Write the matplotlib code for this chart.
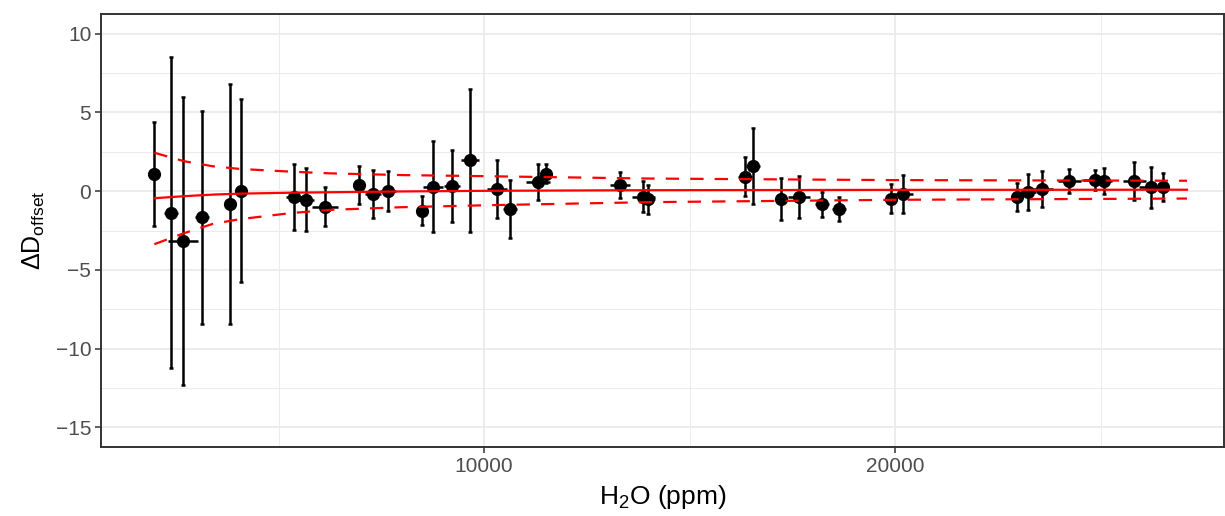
import matplotlib
matplotlib.use("Agg")
import matplotlib.pyplot as plt
from matplotlib.ticker import MultipleLocator

# measured points: H2O (ppm), offset, x error, y error
h2o = [1978, 2384, 2684, 3146, 3820, 4080, 5384, 5676, 6131, 6966,
       7292, 7652, 8479, 8766, 9214, 9652, 10311, 10633, 11321, 11496,
       13309, 13876, 13998, 16350, 16552, 17226, 17664, 18217, 18645, 19895,
       20187, 22961, 23243, 23584, 24241, 24866, 25092, 25822, 26221, 26513]
d_off = [1.07, -1.36, -3.19, -1.66, -0.81, 0.03, -0.39, -0.56, -0.98, 0.38,
         -0.18, -0.02, -1.23, 0.29, 0.34, 1.96, 0.14, -1.13, 0.58, 1.10,
         0.39, -0.35, -0.51, 0.92, 1.59, -0.49, -0.39, -0.83, -1.13, -0.49,
         -0.18, -0.39, -0.03, 0.12, 0.64, 0.71, 0.64, 0.64, 0.24, 0.28]
h2o_err = [100, 170, 365, 170, 150, 100, 195, 195, 315, 120,
           195, 195, 120, 245, 195, 220, 245, 170, 290, 120,
           245, 290, 170, 170, 170, 150, 270, 170, 170, 150,
           245, 150, 195, 245, 270, 290, 195, 270, 290, 150]
d_err = [3.3, 9.85, 9.15, 6.77, 7.6, 5.8, 2.1, 2.0, 1.25, 1.2,
         1.5, 1.27, 0.9, 2.87, 2.28, 4.53, 1.83, 1.82, 1.17, 0.6,
         0.85, 1.0, 0.92, 1.23, 2.41, 1.34, 1.34, 0.8, 0.78, 0.92,
         1.2, 0.9, 1.15, 1.14, 0.77, 0.66, 0.82, 1.19, 1.3, 0.9]

# fitted curve and its band
fit_x = [1978, 2700, 3400, 4060, 5280, 6250, 8000, 10000, 14000, 20000, 27100]
fit_y = [-0.45, -0.32, -0.22, -0.16, -0.10, -0.07, -0.02, 0.02, 0.06, 0.08, 0.09]
fit_hi = [2.44, 1.90, 1.58, 1.41, 1.24, 1.13, 1.02, 0.95, 0.80, 0.70, 0.66]
fit_lo = [-3.37, -2.67, -2.08, -1.78, -1.40, -1.19, -1.02, -0.90, -0.70, -0.55, -0.47]

plt.rcParams['font.family'] = ['Liberation Sans', 'DejaVu Sans']
plt.rcParams['mathtext.fontset'] = 'custom'
plt.rcParams['mathtext.rm'] = 'Liberation Sans'
plt.rcParams['mathtext.it'] = 'Liberation Sans:italic'

fig = plt.figure(figsize=(12.25, 5.16), dpi=100)
ax = fig.add_axes([101 / 1225, 69 / 516, 1123 / 1225, 433 / 516])

# horizontal bars (no caps), vertical bars (small caps), then points
ax.errorbar(h2o, d_off, xerr=h2o_err, fmt='none', ecolor='black',
            elinewidth=1.8, capsize=0, zorder=2)
ax.errorbar(h2o, d_off, yerr=d_err, fmt='none', ecolor='black',
            elinewidth=1.8, capsize=1.6, capthick=1.8, zorder=2)
ax.plot(h2o, d_off, 'o', color='black', ms=8.5, zorder=3)

ax.plot(fit_x, fit_y, color='#FF0000', lw=1.6, zorder=4)
ax.plot(fit_x, fit_hi, color='#FF0000', lw=1.6, ls=(0, (6, 5)), zorder=4)
ax.plot(fit_x, fit_lo, color='#FF0000', lw=1.6, ls=(0, (6, 5)), zorder=4)

ax.set_xlim(680, 28000)
ax.set_ylim(-16.25, 11.25)
ax.xaxis.set_major_locator(MultipleLocator(10000))
ax.xaxis.set_minor_locator(MultipleLocator(5000))
ax.yaxis.set_major_locator(MultipleLocator(5))
ax.yaxis.set_minor_locator(MultipleLocator(2.5))

ax.grid(which='major', color='#EBEBEB', lw=1.3, zorder=0)
ax.grid(which='minor', color='#EBEBEB', lw=0.7, zorder=0)
ax.set_axisbelow(True)
for s in ax.spines.values():
    s.set_color('#333333')
    s.set_linewidth(1.4)
ax.tick_params(which='major', length=4, width=1.1, color='#333333',
               labelcolor='#4D4D4D', labelsize=15, pad=3)
ax.tick_params(which='minor', length=0)

ax.set_xlabel(r'H$_2$O (ppm)', fontsize=19, labelpad=5)
ax.set_ylabel(r'$\Delta$D$_{\mathrm{offset}}$', fontsize=18, labelpad=6)

fig.savefig('out.png', dpi=100)
